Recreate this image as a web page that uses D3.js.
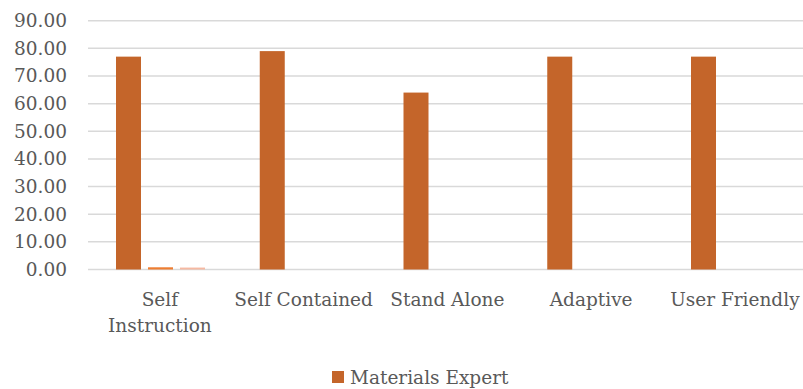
<!DOCTYPE html>
<html>
<head>
<meta charset="utf-8">
<script src="https://cdn.jsdelivr.net/npm/d3@7"></script>
<style>
  html, body { margin: 0; padding: 0; background: #fff; }
  svg { display: block; }
</style>
</head>
<body>
<svg id="chart" width="803" height="389"></svg>
<script>
const categories = ["Self Instruction", "Self Contained", "Stand Alone", "Adaptive", "User Friendly"];
const categoryLines = [["Self", "Instruction"], ["Self Contained"], ["Stand Alone"], ["Adaptive"], ["User Friendly"]];
const seriesNames = ["Materials Expert", "Series 2", "Series 3"];
const materialsExpert = [77, 79, 64, 77, 77];
const series2 = [0.8, 0, 0, 0, 0];
const series3 = [0.7, 0, 0, 0, 0];
const yTicks = [0, 10, 20, 30, 40, 50, 60, 70, 80, 90];
const legendNames = ["Materials Expert"];

const colors = ["#c4652a", "#ed7d31", "#f5b9a2"];
const seriesValues = [materialsExpert, series2, series3];

const FONT = "'DejaVu Serif', serif";
const svg = d3.select("#chart")
  .attr("font-family", FONT)
  .style("font-family", FONT);
const fontSize = 18.5;
const textColor = "#595959";

const x = d3.scaleBand().domain(categories).range([88, 806.75]).paddingInner(0).paddingOuter(0);
const xs = d3.scaleBand().domain(seriesNames).range([28, 117]).paddingInner(7 / 32).paddingOuter(0);
const y = d3.scaleLinear().domain([0, 90]).range([269.5, 20.7]);

// gridlines
svg.append("g").selectAll("line").data(yTicks).join("line")
  .attr("x1", 88).attr("x2", 806)
  .attr("y1", d => y(d)).attr("y2", d => y(d))
  .attr("stroke", "#d9d9d9").attr("stroke-width", 1.5);

// y tick labels
svg.append("g").selectAll("text").data(yTicks).join("text")
  .attr("x", 67).attr("y", d => y(d))
  .attr("text-anchor", "end").attr("dominant-baseline", "central")
  .attr("font-size", fontSize).attr("font-family", FONT).attr("fill", textColor)
  .text(d => d3.format(".2f")(d));

// bars
const rows = [];
seriesNames.forEach((s, si) => {
  categories.forEach((c, ci) => {
    rows.push({ s, si, c, v: seriesValues[si][ci] });
  });
});
svg.append("g").selectAll("rect").data(rows.filter(d => d.v > 0)).join("rect")
  .attr("x", d => x(d.c) + xs(d.s))
  .attr("width", xs.bandwidth())
  .attr("y", d => y(d.v))
  .attr("height", d => y(0) - y(d.v))
  .attr("fill", d => colors[d.si]);

// category labels
const cl = svg.append("g").selectAll("text").data(categories).join("text")
  .attr("text-anchor", "middle")
  .attr("font-size", fontSize).attr("font-family", FONT).attr("fill", textColor);
cl.each(function (d, i) {
  const t = d3.select(this);
  categoryLines[i].forEach((line, li) => {
    t.append("tspan")
      .attr("x", x(d) + x.bandwidth() / 2)
      .attr("y", 306 + li * 26)
      .text(line);
  });
});

// legend
const lg = svg.append("g").selectAll("g").data(legendNames).join("g");
lg.append("rect").attr("x", 332).attr("y", 371).attr("width", 12).attr("height", 12)
  .attr("fill", (d, i) => colors[i]);
lg.append("text").attr("x", 350).attr("y", 384)
  .attr("font-size", fontSize).attr("font-family", FONT).attr("fill", textColor)
  .text(d => d);
</script>
</body>
</html>
